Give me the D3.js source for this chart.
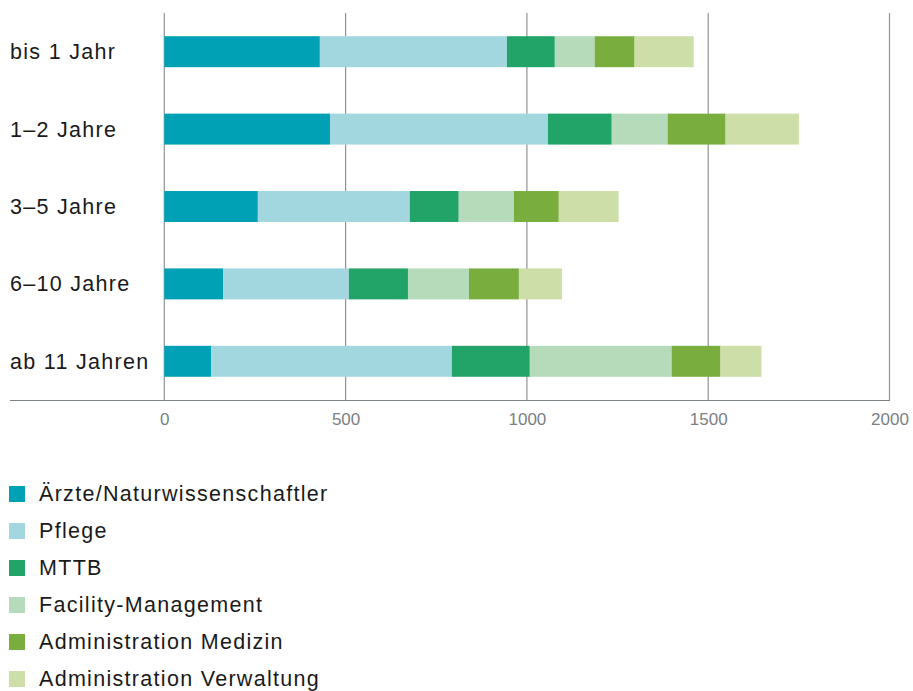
<!DOCTYPE html>
<html>
<head>
<meta charset="utf-8">
<script src="https://cdn.jsdelivr.net/npm/d3@7"></script>
<style>
  html, body { margin: 0; padding: 0; background: #ffffff; }
  svg { display: block; font-family: "Liberation Sans", Arial, Helvetica, sans-serif; }
</style>
</head>
<body>
<svg id="chart" width="913" height="691"></svg>
<script>
// Years of service groups (rows, top to bottom)
const categories = ["bis 1 Jahr", "1–2 Jahre", "3–5 Jahre", "6–10 Jahre", "ab 11 Jahren"];

// Staff groups (stack order, left to right)
const groups = [
  "Ärzte/Naturwissenschaftler",
  "Pflege",
  "MTTB",
  "Facility-Management",
  "Administration Medizin",
  "Administration Verwaltung"
];

// Headcount per staff group, one value per row in category order
const aerzte        = [429, 457, 258, 162, 129];
const pflege        = [516, 601, 419, 347, 664];
const mttb          = [132, 176, 135, 163, 215];
const facility      = [110, 154, 152, 168, 391];
const adminMedizin  = [110, 160, 124, 138, 135];
const adminVerwalt  = [163, 202, 165, 119, 113];

const xTicks = [0, 500, 1000, 1500, 2000];

const colors = ["#00a0b5", "#a2d7e0", "#22a469", "#b6dbbb", "#79ae3f", "#cddea8"];

const seriesValues = [aerzte, pflege, mttb, facility, adminMedizin, adminVerwalt];
const rows = categories.map((c, i) => {
  const r = { category: c };
  groups.forEach((g, j) => { r[g] = seriesValues[j][i]; });
  return r;
});

const svg = d3.select("#chart");

const x = d3.scaleLinear().domain([0, 2000]).range([164.3, 889.5]);
const y = d3.scaleBand().domain(categories).range([13, 400])
  .paddingInner(0.6).paddingOuter(0.3);
const color = d3.scaleOrdinal().domain(groups).range(colors);

// vertical grid lines
svg.append("g")
  .selectAll("line")
  .data(xTicks)
  .join("line")
  .attr("x1", d => x(d)).attr("x2", d => x(d))
  .attr("y1", 13).attr("y2", 400)
  .attr("stroke", "#8d9398")
  .attr("stroke-width", 1.2);

// stacked bars
const stacked = d3.stack().keys(groups)(rows);
svg.append("g")
  .selectAll("g")
  .data(stacked)
  .join("g")
  .attr("fill", d => color(d.key))
  .selectAll("rect")
  .data(d => d)
  .join("rect")
  .attr("x", d => x(d[0]))
  .attr("width", d => x(d[1]) - x(d[0]))
  .attr("y", d => y(d.data.category))
  .attr("height", y.bandwidth());

// baseline
svg.append("line")
  .attr("x1", 10).attr("x2", x(2000) + 0.5)
  .attr("y1", 400.5).attr("y2", 400.5)
  .attr("stroke", "#7d8489")
  .attr("stroke-width", 1.2);

// bottom axis labels
const xAxis = d3.axisBottom(x).tickValues(xTicks).tickSize(0).tickPadding(13).tickFormat(d3.format("d"));
const ax = svg.append("g").attr("transform", "translate(0,400)").call(xAxis);
ax.select(".domain").remove();
ax.selectAll("text")
  .attr("fill", "#7a8085")
  .style("font-size", "17px")
  .style("font-family", "\"Liberation Sans\", Arial, sans-serif");

// category labels
svg.append("g")
  .selectAll("text")
  .data(categories)
  .join("text")
  .attr("x", 10)
  .attr("y", d => y(d) + y.bandwidth() / 2 + 7.5)
  .attr("fill", "#1a1a1a")
  .style("font-size", "21.5px")
  .style("letter-spacing", "1.3px")
  .text(d => d);

// legend
const legend = svg.append("g")
  .selectAll("g")
  .data(groups)
  .join("g")
  .attr("transform", (d, i) => `translate(9, ${486 + i * 37})`);
legend.append("rect")
  .attr("width", 16).attr("height", 16)
  .attr("fill", d => color(d));
legend.append("text")
  .attr("x", 30)
  .attr("y", 15)
  .attr("fill", "#1a1a1a")
  .style("font-size", "21.5px")
  .style("letter-spacing", "1.3px")
  .text(d => d);
</script>
</body>
</html>
